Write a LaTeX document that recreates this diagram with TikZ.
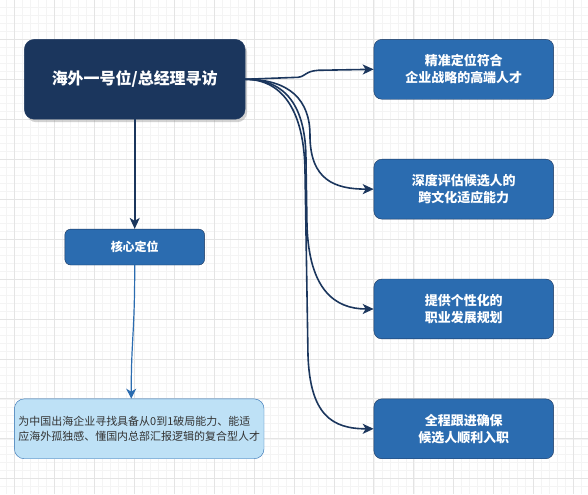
\documentclass[tikz,border=0pt]{standalone}
\usepackage{fontspec}
\setmainfont{Noto Sans CJK SC}
\usetikzlibrary{arrows.meta,shadows}
\definecolor{navy}{HTML}{1B365D}
\definecolor{midblue}{HTML}{2B6CB0}
\definecolor{paleblue}{HTML}{BEE1F6}
\definecolor{gridmajor}{HTML}{E4E4E4}
\definecolor{gridminor}{HTML}{F4F4F4}
\tikzset{
    mainbox/.style={rounded corners=10pt, fill=navy, draw=navy, text=white,
        minimum width=221pt, minimum height=80pt,
        font=\bfseries\fontsize{16}{20}\selectfont,
        drop shadow={shadow xshift=2pt, shadow yshift=-3pt, opacity=0.35}},
    goalbox/.style={rounded corners=8pt, fill=midblue, draw=navy, text=white,
        minimum width=180pt, minimum height=60pt, align=center,
        font=\bfseries\fontsize{13}{17}\selectfont},
    corebox/.style={rounded corners=6pt, fill=midblue, draw=navy, text=white,
        minimum width=140pt, minimum height=36pt,
        font=\bfseries\fontsize{12}{15}\selectfont},
    descbox/.style={rounded corners=10pt, fill=paleblue, draw=midblue, text=black!80,
        minimum width=250pt, minimum height=60pt, align=left, inner xsep=2pt,
        font=\fontsize{11}{15}\selectfont},
    link/.style={navy, line width=1.6pt, -{Stealth[length=11pt,width=10pt,inset=3pt]}},
    thinlink/.style={midblue, line width=1.2pt, -{Stealth[length=10pt,width=10pt,inset=3pt]}}
}
\begin{document}
\begin{tikzpicture}[x=1pt,y=-1pt]
    % background grid
    \fill[white] (0,0) rectangle (588,494);
    \foreach \x in {6,14,...,582} \draw[gridminor, line width=0.6pt] (\x,0) -- (\x,494);
    \foreach \y in {7,15,...,487} \draw[gridminor, line width=0.6pt] (0,\y) -- (588,\y);
    \foreach \x in {14,54,...,574} \draw[gridmajor, line width=0.8pt] (\x,0) -- (\x,494);
    \foreach \y in {39,79,...,479} \draw[gridmajor, line width=0.8pt] (0,\y) -- (588,\y);
    \useasboundingbox (0,0) rectangle (588,494);

    \node[mainbox] (hunt) at (134.5,79) {海外一号位/总经理寻访};
    \node[corebox] (core) at (134.5,247) {核心定位};
    \node[descbox] (desc) at (139,429) {为中国出海企业寻找具备从0到1破局能力、能适\\应海外孤独感、懂国内总部汇报逻辑的复合型人才};

    \node[goalbox] (aim) at (464,69) {精准定位符合\\企业战略的高端人才};
    \node[goalbox] (fit) at (464,189) {深度评估候选人的\\跨文化适应能力};
    \node[goalbox] (plan) at (464,309) {提供个性化的\\职业发展规划};
    \node[goalbox] (care) at (464,429) {全程跟进确保\\候选人顺利入职};

    \draw[link] (hunt.south) -- (core.north);
    \draw[thinlink] (core.south) .. controls +(0,70) and +(0,-60) .. ([xshift=-8pt]desc.north);

    \draw[link] (hunt.east) -- (298,77) .. controls (306,76) and (305,71) .. (318,70) -- (aim.west);
    \draw[link] (hunt.east) .. controls (290,79) and (310,100) .. (310,135)
        .. controls (310,180) and (335,189) .. (fit.west);
    \draw[link] (hunt.east) .. controls (285,79) and (306,105) .. (306,160) -- (307,225)
        .. controls (309,290) and (335,309) .. (plan.west);
    \draw[link] (hunt.east) .. controls (282,79) and (304,110) .. (305,170) -- (308,355)
        .. controls (310,415) and (332,429) .. (care.west);
\end{tikzpicture}
\end{document}
